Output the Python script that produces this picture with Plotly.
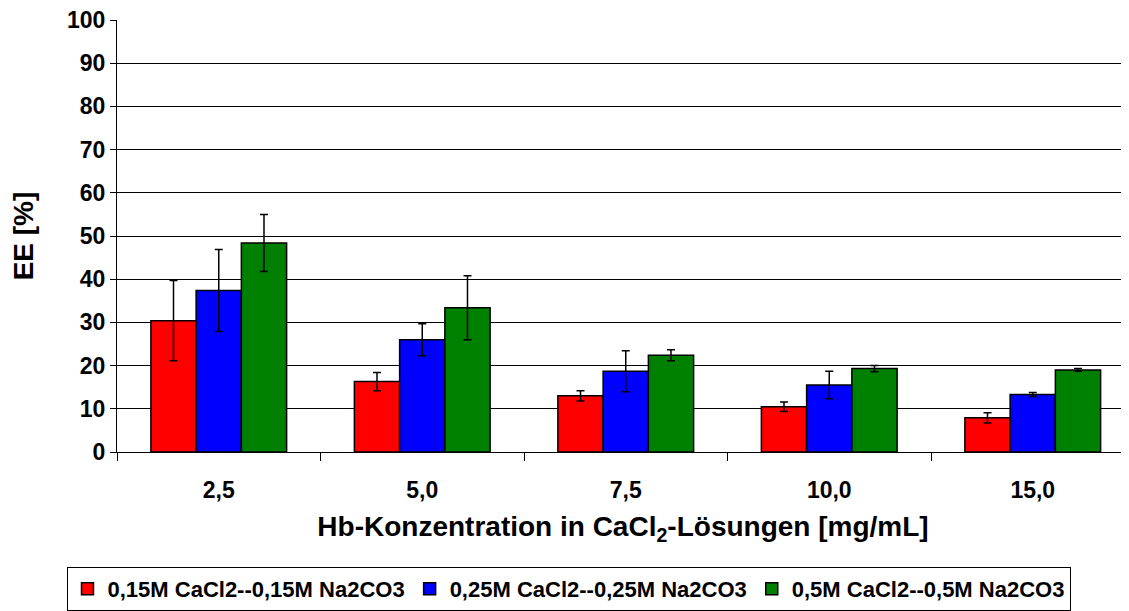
import plotly.graph_objects as go

categories = ["2,5", "5,0", "7,5", "10,0", "15,0"]
series_names = [
    "0,15M CaCl2--0,15M Na2CO3",
    "0,25M CaCl2--0,25M Na2CO3",
    "0,5M CaCl2--0,5M Na2CO3",
]
vals_015 = [30.4, 16.3, 13.0, 10.5, 7.9]
err_015 = [9.3, 2.1, 1.2, 1.1, 1.2]
vals_025 = [37.4, 26.0, 18.7, 15.5, 13.3]
err_025 = [9.5, 3.7, 4.75, 3.2, 0.45]
vals_05 = [48.4, 33.4, 22.4, 19.3, 19.0]
err_05 = [6.6, 7.4, 1.25, 0.7, 0.3]
colors = ["#FF0000", "#0000FF", "#008000"]

FONT = "Liberation Sans, Arial, sans-serif"

fig = go.Figure()
for name, vals, errs, col in zip(series_names, [vals_015, vals_025, vals_05],
                                 [err_015, err_025, err_05], colors):
    fig.add_trace(go.Bar(
        x=categories, y=vals, name=name,
        marker=dict(color=col, line=dict(color="black", width=1.5)),
        error_y=dict(type="data", array=errs, visible=True, color="black",
                     thickness=1.5, width=4),
    ))

fig.update_layout(
    width=1121, height=603,
    margin=dict(l=109, r=0, t=12, b=159),
    paper_bgcolor="white", plot_bgcolor="white",
    barmode="group", bargap=0.333, bargroupgap=0,
    font=dict(family=FONT, size=20, color="black", weight="bold"),
    showlegend=True,
    legend=dict(
        orientation="h", xref="container", yref="container",
        x=0.5, xanchor="center", y=0.0, yanchor="bottom",
        bordercolor="black", borderwidth=1,
        font=dict(family=FONT, size=22, color="black", weight="bold"),
        itemwidth=30, tracegroupgap=0, entrywidthmode="pixels",
    ),
    xaxis=dict(
        type="category", range=[-0.5, 4.473],
        showline=True, linecolor="black", linewidth=1,
        ticks="outside", tickson="boundaries", ticklen=8, tickcolor="black",
        tickfont=dict(family=FONT, size=23, color="black", weight="bold"),
        ticklabelstandoff=17,
        title=dict(text="Hb-Konzentration in CaCl<sub>2</sub>-Lösungen [mg/mL]",
                   font=dict(family=FONT, size=28, color="black", weight="bold"),
                   standoff=14),
        showgrid=False,
    ),
    yaxis=dict(
        range=[0, 100], dtick=10,
        showline=True, linecolor="black", linewidth=1,
        ticks="outside", ticklen=6, tickcolor="black",
        tickfont=dict(family=FONT, size=23, color="black", weight="bold"),
        ticklabeloverflow="allow",
        showgrid=True, gridcolor="black", gridwidth=1,
        zeroline=False,
        title=dict(text="EE [%]",
                   font=dict(family=FONT, size=28, color="black", weight="bold"),
                   standoff=28),
    ),
)

fig.write_html("out.html")
